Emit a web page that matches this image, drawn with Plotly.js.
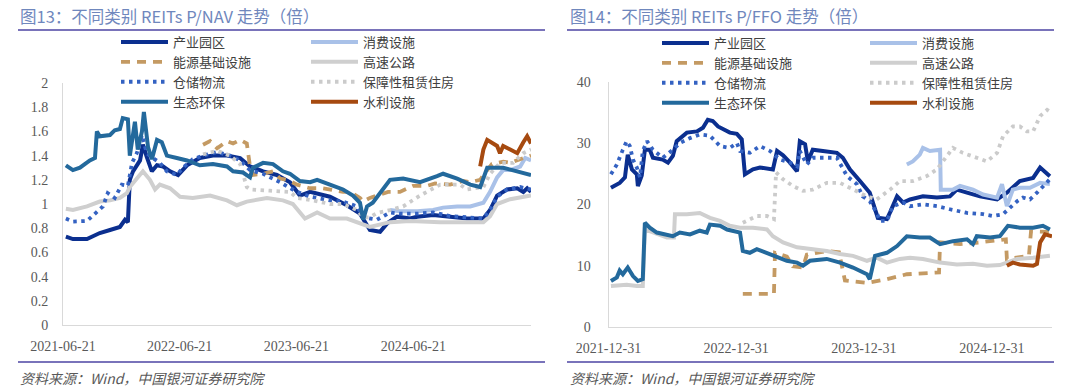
<!DOCTYPE html>
<html>
<head>
<meta charset="utf-8">
<script src="https://cdn.plot.ly/plotly-3.0.1.min.js"></script>
<style>html,body{margin:0;padding:0;background:#fff;}#chart{width:1080px;height:392px;}</style>
</head>
<body>
<div id="chart"></div>
<script>
// ---------- labels ----------
const leftTitle = '图13：不同类别 REITs P/NAV 走势（倍）';
const rightTitle = '图14：不同类别 REITs P/FFO 走势（倍）';
const sourceText = '资料来源：Wind，中国银河证券研究院';
const seriesNames = ['产业园区','消费设施','能源基础设施','高速公路','仓储物流','保障性租赁住房','生态环保','水利设施'];
const leftXTicks = ['2021-06-21','2022-06-21','2023-06-21','2024-06-21'];
const rightXTicks = ['2021-12-31','2022-12-31','2023-12-31','2024-12-31'];
const leftYTicks = [0,0.2,0.4,0.6,0.8,1,1.2,1.4,1.6,1.8,2];
const rightYTicks = [0,10,20,30,40];

// ---------- P/NAV (left) ----------
const parkNavDates = ['2021-06-30','2021-07-22','2021-09-04','2021-10-14','2021-11-15','2021-12-16','2022-01-01','2022-01-10','2022-01-16','2022-01-26','2022-02-17','2022-02-26','2022-03-10','2022-03-26','2022-04-11','2022-04-30','2022-05-22','2022-06-16','2022-07-14','2022-08-23','2022-10-03','2022-11-16','2022-12-27','2023-01-27','2023-02-27','2023-03-09','2023-04-21','2023-06-01','2023-07-02','2023-08-03','2023-10-04','2023-11-26','2024-01-06','2024-02-06','2024-03-09','2024-03-31','2024-05-01','2024-06-11','2024-07-03','2024-08-22','2024-10-14','2024-12-06','2025-01-26','2025-02-16','2025-03-10','2025-04-10','2025-05-12','2025-05-31','2025-06-12','2025-06-24'];
const parkNav = [0.73,0.71,0.71,0.76,0.785,0.81,0.87,0.85,1.20,1.27,1.36,1.49,1.39,1.27,1.32,1.31,1.27,1.24,1.32,1.38,1.40,1.40,1.38,1.31,1.28,1.27,1.24,1.18,1.07,1.10,1.06,0.99,0.92,0.785,0.77,0.84,0.895,0.88,0.895,0.91,0.895,0.88,0.88,0.95,1.07,1.12,1.13,1.10,1.13,1.10];

const consumeNavDates = ['2024-04-09','2024-05-10','2024-07-03','2024-08-22','2024-09-22','2024-11-05','2024-12-16','2025-01-26','2025-02-16','2025-03-10','2025-03-29','2025-04-20','2025-05-21','2025-06-06','2025-06-24'];
const consumeNav = [0.95,0.94,0.94,0.95,0.97,0.98,0.98,1.01,1.10,1.22,1.28,1.28,1.31,1.38,1.36];

const energyNavDates = ['2022-09-02','2022-09-24','2022-10-16','2022-11-16','2022-12-05','2022-12-27','2023-01-17','2023-01-27','2023-02-05','2023-03-09','2023-04-09','2023-05-01','2023-05-23','2023-06-23','2023-08-03','2023-09-12','2023-11-14','2023-12-06','2024-01-06','2024-01-16','2024-02-06','2024-04-03','2024-05-10','2024-06-20','2024-08-03','2024-08-28','2024-10-14','2024-11-24','2024-12-16','2025-01-16','2025-02-01','2025-02-22','2025-03-29','2025-04-20','2025-05-31','2025-06-24'];
const energyNav = [1.49,1.52,1.46,1.52,1.50,1.53,1.50,1.31,1.24,1.25,1.27,1.21,1.20,1.16,1.13,1.13,1.10,1.10,1.05,1.02,1.05,1.10,1.10,1.15,1.15,1.17,1.16,1.19,1.18,1.20,1.26,1.33,1.35,1.34,1.38,1.40];

const highwayNavDates = ['2021-06-30','2021-07-22','2021-09-04','2021-10-14','2021-11-15','2021-12-16','2022-01-07','2022-01-16','2022-02-07','2022-02-26','2022-03-20','2022-04-05','2022-04-20','2022-05-22','2022-06-22','2022-08-01','2022-09-24','2022-11-16','2022-12-17','2023-01-17','2023-03-21','2023-05-10','2023-06-10','2023-06-23','2023-07-18','2023-08-25','2023-10-04','2023-11-26','2024-01-06','2024-02-06','2024-04-09','2024-06-11','2024-09-13','2024-12-06','2025-01-26','2025-02-16','2025-03-10','2025-04-20','2025-06-24'];
const highwayNav = [0.96,0.95,0.98,1.02,1.03,1.05,1.09,1.14,1.21,1.27,1.20,1.12,1.16,1.13,1.06,1.05,1.07,1.03,0.99,1.02,1.05,1.03,1.00,0.96,0.88,0.93,0.88,0.88,0.84,0.81,0.85,0.86,0.85,0.85,0.85,0.90,1.00,1.04,1.07];

const logNavDates = ['2021-06-30','2021-07-22','2021-09-04','2021-10-05','2021-10-24','2021-11-08','2021-11-30','2021-12-22','2022-01-10','2022-01-23','2022-02-07','2022-02-23','2022-03-10','2022-03-29','2022-04-20','2022-05-12','2022-06-12','2022-07-01','2022-08-01','2022-09-02','2022-10-16','2022-11-25','2022-12-27','2023-01-27','2023-03-09','2023-05-01','2023-06-23','2023-08-03','2023-10-04','2023-11-14','2023-12-28','2024-01-16','2024-02-28','2024-04-09','2024-05-10','2024-07-03','2024-08-22','2024-10-14','2025-01-26','2025-02-16','2025-03-10','2025-04-10','2025-05-21','2025-06-24'];
const logNav = [0.88,0.855,0.86,0.94,0.98,1.09,1.05,1.16,1.15,1.34,1.42,1.57,1.42,1.38,1.34,1.27,1.24,1.30,1.37,1.40,1.43,1.40,1.36,1.28,1.25,1.18,1.10,1.06,1.03,1.02,0.98,0.89,0.87,0.93,0.92,0.92,0.93,0.90,0.88,0.95,1.06,1.12,1.14,1.12];

const rentNavDates = ['2022-09-02','2022-10-16','2022-11-25','2022-12-27','2023-01-17','2023-01-27','2023-03-30','2023-06-01','2023-06-23','2023-08-12','2023-10-04','2023-11-14','2023-12-28','2024-01-16','2024-02-06','2024-02-28','2024-04-09','2024-05-20','2024-07-12','2024-09-13','2024-11-14','2024-12-06','2025-01-26','2025-02-16','2025-03-19','2025-04-29','2025-05-31','2025-06-24'];
const rentNav = [1.41,1.44,1.40,1.33,1.14,1.12,1.11,1.10,1.05,1.03,1.00,1.00,0.95,0.89,0.89,0.925,0.95,0.98,1.07,1.16,1.16,1.12,1.14,1.25,1.34,1.34,1.42,1.45];

const ecoNavDates = ['2021-06-30','2021-07-22','2021-08-13','2021-09-13','2021-09-29','2021-10-05','2021-10-14','2021-11-15','2021-11-30','2021-12-16','2021-12-25','2022-01-10','2022-01-16','2022-02-01','2022-02-10','2022-02-23','2022-03-01','2022-03-14','2022-03-26','2022-04-11','2022-04-26','2022-05-12','2022-06-12','2022-07-14','2022-08-23','2022-10-03','2022-11-16','2022-12-05','2023-01-05','2023-01-27','2023-02-05','2023-03-09','2023-04-09','2023-05-10','2023-06-01','2023-07-02','2023-08-03','2023-08-25','2023-10-04','2023-11-14','2023-12-15','2024-01-06','2024-01-16','2024-01-28','2024-02-15','2024-03-18','2024-04-09','2024-05-20','2024-07-12','2024-09-03','2024-09-22','2024-11-05','2024-12-16','2025-01-16','2025-02-07','2025-03-29','2025-04-29','2025-06-24'];
const ecoNav = [1.32,1.28,1.30,1.36,1.38,1.60,1.56,1.57,1.61,1.62,1.71,1.70,1.40,1.68,1.45,1.60,1.76,1.47,1.37,1.53,1.51,1.40,1.38,1.36,1.32,1.33,1.31,1.27,1.26,1.22,1.30,1.34,1.33,1.27,1.25,1.19,1.18,1.20,1.16,1.12,1.07,1.01,0.87,0.98,1.01,1.13,1.20,1.21,1.18,1.23,1.25,1.21,1.16,1.14,1.30,1.30,1.28,1.24];

const waterNavDates = ['2025-01-16','2025-01-26','2025-02-07','2025-02-25','2025-03-10','2025-03-19','2025-03-29','2025-04-20','2025-05-12','2025-05-31','2025-06-12','2025-06-24'];
const waterNav = [1.31,1.45,1.53,1.50,1.48,1.42,1.48,1.45,1.42,1.51,1.56,1.50];

// ---------- P/FFO (right) ----------
const parkFfoDates = ['2022-01-07','2022-02-01','2022-02-16','2022-02-24','2022-03-08','2022-03-22','2022-03-25','2022-04-05','2022-04-14','2022-04-28','2022-05-07','2022-06-04','2022-06-19','2022-07-03','2022-07-14','2022-08-12','2022-09-10','2022-09-27','2022-10-11','2022-10-25','2022-11-09','2022-12-13','2023-01-02','2023-01-16','2023-01-25','2023-02-17','2023-03-09','2023-04-15','2023-04-27','2023-05-14','2023-06-03','2023-06-23','2023-07-01','2023-07-16','2023-07-24','2023-08-07','2023-09-05','2023-10-15','2023-11-01','2023-11-21','2023-12-20','2024-01-17','2024-02-09','2024-03-06','2024-03-15','2024-04-04','2024-04-21','2024-05-11','2024-06-17','2024-07-27','2024-09-02','2024-09-22','2024-10-21','2024-11-27','2025-01-15','2025-02-12','2025-03-21','2025-04-28','2025-05-18','2025-06-01','2025-06-15'];
const parkFfo = [22.7,23.5,24.4,28.1,25.7,24.9,23.0,24.7,28.9,28.9,27.6,27.3,26.8,27.9,30.3,31.7,31.9,32.5,33.8,33.6,32.7,31.7,31.5,30.6,24.9,25.7,26.0,25.7,28.7,28.0,26.8,25.4,30.3,29.8,27.0,28.9,28.7,28.4,27.6,25.7,23.8,21.9,17.8,17.6,18.7,21.3,20.3,20.8,21.3,21.1,21.3,22.4,21.9,21.3,20.8,21.9,23.8,24.3,26.0,25.4,24.6];

const consumeFfoDates = ['2024-05-02','2024-05-19','2024-06-08','2024-06-17','2024-07-07','2024-08-05','2024-08-07','2024-09-11','2024-10-01','2024-11-07','2024-12-06','2025-01-15','2025-01-29','2025-02-12','2025-03-01','2025-03-21','2025-04-19','2025-05-18','2025-06-15'];
const consumeFfo = [26.5,27.0,28.1,29.2,28.7,28.9,22.4,22.4,23.0,22.4,21.6,21.1,23.3,19.7,22.4,22.7,22.7,23.5,23.3];

const energyFfoDates = ['2023-01-19','2023-04-18','2023-04-21','2023-05-25','2023-06-11','2023-07-10','2023-07-21','2023-09-16','2023-10-21','2023-11-07','2024-01-09','2024-03-06','2024-05-02','2024-08-02','2024-08-05','2024-10-01','2024-11-27','2025-02-09','2025-02-12','2025-04-16','2025-04-22','2025-06-21'];
const energyFfo = [5.4,5.4,12.1,11.5,9.9,9.7,11.8,12.4,12.2,7.6,7.2,7.8,8.6,8.9,13.8,13.5,13.8,14.3,11.1,11.6,15.6,15.5];

const highwayFfoDates = ['2022-01-07','2022-02-21','2022-03-22','2022-04-08','2022-04-14','2022-05-07','2022-06-16','2022-07-06','2022-07-09','2022-08-12','2022-09-18','2022-10-17','2022-11-15','2022-12-13','2023-01-11','2023-02-17','2023-03-29','2023-04-15','2023-05-14','2023-06-23','2023-07-30','2023-09-16','2023-10-24','2023-11-30','2024-01-09','2024-02-06','2024-03-06','2024-04-12','2024-05-11','2024-06-17','2024-08-05','2024-09-22','2024-11-07','2024-12-17','2025-01-23','2025-03-13','2025-04-28','2025-06-15'];
const highwayFfo = [6.7,6.9,6.7,6.7,15.9,15.4,14.6,14.6,18.4,18.4,18.6,17.8,17.3,16.5,16.2,16.2,15.9,14.8,13.8,13.0,12.7,12.4,11.9,11.6,10.8,11.3,10.5,11.1,11.3,11.1,10.5,10.2,10.3,10.0,10.1,11.1,11.3,11.6];

const logFfoDates = ['2022-01-07','2022-01-24','2022-02-10','2022-02-21','2022-03-02','2022-03-11','2022-03-22','2022-03-31','2022-04-08','2022-04-20','2022-05-07','2022-06-04','2022-07-03','2022-07-23','2022-08-21','2022-09-18','2022-10-17','2022-11-15','2022-12-13','2023-01-02','2023-01-11','2023-02-08','2023-03-09','2023-04-07','2023-05-05','2023-06-03','2023-06-23','2023-07-01','2023-07-21','2023-08-07','2023-09-16','2023-10-15','2023-11-13','2023-12-11','2023-12-28','2024-01-17','2024-02-06','2024-02-15','2024-03-06','2024-03-23','2024-04-21','2024-05-11','2024-06-17','2024-07-27','2024-09-02','2024-10-21','2024-12-06','2025-01-03','2025-02-01','2025-02-21','2025-03-13','2025-03-30','2025-04-19','2025-05-09','2025-05-26','2025-06-15'];
const logFfo = [24.9,26.5,28.9,30.3,29.5,27.3,26.0,24.4,28.7,30.3,28.9,27.6,28.9,30.0,30.8,31.4,31.2,29.5,29.2,30.0,28.7,28.4,29.5,28.7,27.3,26.8,26.2,28.7,26.5,27.6,27.6,27.6,24.6,23.3,21.3,20.5,18.6,17.3,17.3,19.7,20.3,19.7,20.0,19.7,19.2,18.6,18.4,18.1,18.4,19.5,20.5,21.1,20.8,21.9,23.0,24.1];

const rentFfoDates = ['2023-01-19','2023-02-28','2023-03-29','2023-04-18','2023-04-24','2023-05-14','2023-06-11','2023-07-10','2023-08-07','2023-09-16','2023-10-24','2023-11-30','2024-01-09','2024-02-06','2024-03-15','2024-04-12','2024-05-19','2024-06-28','2024-07-27','2024-08-13','2024-09-11','2024-10-09','2024-11-18','2024-12-17','2025-01-15','2025-02-01','2025-03-01','2025-03-21','2025-04-10','2025-04-28','2025-05-18','2025-06-07','2025-06-21'];
const rentFfo = [17.0,18.1,18.1,17.6,25.2,24.1,23.0,22.2,22.4,23.5,23.5,22.4,21.3,20.8,22.4,23.8,23.8,24.6,25.7,27.0,29.2,28.4,27.6,27.0,28.4,31.1,32.7,32.7,31.9,31.9,34.4,35.4,34.9];

const ecoFfoDates = ['2022-01-07','2022-01-24','2022-02-01','2022-02-10','2022-02-24','2022-03-11','2022-03-25','2022-04-08','2022-04-14','2022-04-28','2022-05-18','2022-06-16','2022-07-03','2022-07-23','2022-08-21','2022-09-18','2022-10-08','2022-10-17','2022-11-15','2022-12-05','2023-01-11','2023-01-19','2023-02-08','2023-02-28','2023-03-29','2023-04-15','2023-05-25','2023-06-23','2023-07-10','2023-07-30','2023-09-16','2023-10-24','2023-11-30','2024-01-09','2024-01-17','2024-02-01','2024-03-06','2024-04-04','2024-05-02','2024-06-08','2024-07-07','2024-08-05','2024-09-11','2024-10-21','2024-11-07','2024-11-18','2024-12-26','2025-01-23','2025-02-15','2025-03-21','2025-04-28','2025-05-26','2025-06-15'];
const ecoFfo = [7.5,8.1,9.2,8.6,9.7,8.3,7.5,7.8,17.0,16.2,15.4,15.1,14.8,15.4,15.1,15.7,15.4,16.7,16.5,15.9,15.4,12.4,12.1,12.7,12.1,11.6,10.8,10.5,10.0,10.8,11.1,10.5,9.7,8.6,7.8,11.6,12.1,13.2,14.8,14.6,14.6,13.5,14.0,14.3,13.5,14.8,14.6,14.8,16.5,16.2,16.2,16.5,15.9];

const waterFfoDates = ['2025-02-12','2025-03-01','2025-03-21','2025-04-28','2025-05-09','2025-05-18','2025-06-01','2025-06-21'];
const waterFfo = [10.0,10.5,10.2,10.0,10.3,13.8,15.1,14.8];

// ---------- styles ----------
const colors = ['#0b2f8f','#a9c1e8','#c49a63','#cfcfcf','#3462c2','#cbcbcb','#23699c','#a64a10'];
const dashes = ['solid','solid','9px,7px','solid','3.5px,4.5px','3.5px,4.5px','solid','solid'];
const widths = [4,4,3.8,4,3.8,3.8,4,4];
const leftLegendOf = ['legend','legend2','legend','legend2','legend','legend2','legend','legend2'];
const rightLegendOf = ['legend3','legend4','legend3','legend4','legend3','legend4','legend3','legend4'];

const navData = [[parkNavDates,parkNav],[consumeNavDates,consumeNav],[energyNavDates,energyNav],[highwayNavDates,highwayNav],[logNavDates,logNav],[rentNavDates,rentNav],[ecoNavDates,ecoNav],[waterNavDates,waterNav]];
const ffoData = [[parkFfoDates,parkFfo],[consumeFfoDates,consumeFfo],[energyFfoDates,energyFfo],[highwayFfoDates,highwayFfo],[logFfoDates,logFfo],[rentFfoDates,rentFfo],[ecoFfoDates,ecoFfo],[waterFfoDates,waterFfo]];

const traces = [];
navData.forEach((d,i)=>traces.push({type:'scatter',mode:'lines',x:d[0],y:d[1],name:seriesNames[i],xaxis:'x',yaxis:'y',legend:leftLegendOf[i],line:{color:colors[i],width:widths[i],dash:dashes[i]},hoverinfo:'skip'}));
ffoData.forEach((d,i)=>traces.push({type:'scatter',mode:'lines',x:d[0],y:d[1],name:seriesNames[i],xaxis:'x2',yaxis:'y2',legend:rightLegendOf[i],line:{color:colors[i],width:widths[i],dash:dashes[i]},hoverinfo:'skip'}));

const W = 1080, H = 392;
const fx = v => v / W;
const fy = v => 1 - v / H;
const numFont = {family:'Liberation Serif, Noto Sans CJK SC, serif', size:14, color:'#595959'};
const cjkFont = 'Noto Sans CJK SC, Liberation Serif, sans-serif';
const legFont = {family:cjkFont, size:13, color:'#404040'};
const legBase = {orientation:'v', xanchor:'left', yanchor:'top', bgcolor:'rgba(0,0,0,0)', borderwidth:0, font:legFont, itemwidth:47, tracegroupgap:0, itemclick:false, itemdoubleclick:false};

const axisCommon = {showgrid:false, zeroline:false, showline:true, linecolor:'#d9d9d9', linewidth:1, ticks:'', fixedrange:true, tickfont:numFont};

const layout = {
  width:W, height:H, margin:{l:0,r:0,t:0,b:0}, paper_bgcolor:'#ffffff', plot_bgcolor:'#ffffff',
  showlegend:true,
  xaxis: Object.assign({}, axisCommon, {domain:[fx(63),fx(531)], type:'date', range:['2021-06-21','2025-06-24'], tickmode:'array', tickvals:leftXTicks, ticktext:leftXTicks, anchor:'y', ticklabelstandoff:8}),
  yaxis: Object.assign({}, axisCommon, {domain:[1-325/H, 1-83/H], range:[0,2], tickmode:'array', tickvals:leftYTicks, ticktext:leftYTicks.map(String), anchor:'x', ticklabelstandoff:11}),
  xaxis2: Object.assign({}, axisCommon, {domain:[fx(608.5),fx(1052)], type:'date', range:['2021-12-31','2025-06-21'], tickmode:'array', tickvals:rightXTicks, ticktext:rightXTicks, anchor:'y2', ticklabelstandoff:8}),
  yaxis2: Object.assign({}, axisCommon, {domain:[1-327/H, 1-81.7/H], range:[0,40], tickmode:'array', tickvals:rightYTicks, ticktext:rightYTicks.map(String), anchor:'x2', ticklabelstandoff:14}),
  legend: Object.assign({}, legBase, {x:fx(116), y:fy(27)}),
  legend2: Object.assign({}, legBase, {x:fx(306), y:fy(27)}),
  legend3: Object.assign({}, legBase, {x:fx(657), y:fy(28)}),
  legend4: Object.assign({}, legBase, {x:fx(865), y:fy(28)}),
  shapes: [
    {type:'line', xref:'paper', yref:'paper', x0:fx(18), x1:fx(545), y0:fy(30), y1:fy(30), line:{color:'#4d45a3', width:1.5}},
    {type:'line', xref:'paper', yref:'paper', x0:fx(567), x1:fx(1054), y0:fy(30), y1:fy(30), line:{color:'#4d45a3', width:1.5}},
    {type:'line', xref:'paper', yref:'paper', x0:fx(18), x1:fx(545), y0:fy(362), y1:fy(362), line:{color:'#4d45a3', width:1.5}},
    {type:'line', xref:'paper', yref:'paper', x0:fx(567), x1:fx(1054), y0:fy(362), y1:fy(362), line:{color:'#4d45a3', width:1.5}}
  ],
  annotations: [
    {xref:'paper', yref:'paper', x:fx(18), y:fy(16), xanchor:'left', yanchor:'middle', showarrow:false, text:leftTitle, font:{family:cjkFont, size:16.5, color:'#6f87bd'}},
    {xref:'paper', yref:'paper', x:fx(568), y:fy(16), xanchor:'left', yanchor:'middle', showarrow:false, text:rightTitle, font:{family:cjkFont, size:16.5, color:'#6f87bd'}},
    {xref:'paper', yref:'paper', x:fx(18), y:fy(378), xanchor:'left', yanchor:'middle', showarrow:false, text:'<i>'+sourceText+'</i>', font:{family:cjkFont, size:14, color:'#595959'}},
    {xref:'paper', yref:'paper', x:fx(568), y:fy(378), xanchor:'left', yanchor:'middle', showarrow:false, text:'<i>'+sourceText+'</i>', font:{family:cjkFont, size:14, color:'#595959'}}
  ]
};

Plotly.newPlot('chart', traces, layout, {displayModeBar:false, staticPlot:true});
</script>
</body>
</html>
